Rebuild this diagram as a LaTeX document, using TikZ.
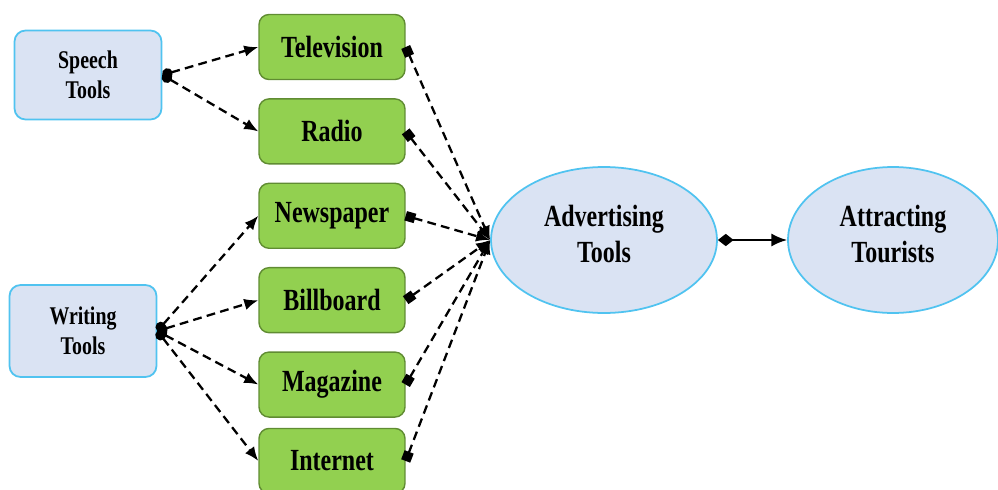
\documentclass[tikz,border=0pt]{standalone}
\usepackage{fontspec}
\newfontfamily\labelfont{Liberation Serif}[FakeStretch=0.78]
\usetikzlibrary{positioning}
\usetikzlibrary{arrows.meta,shapes.geometric}

\definecolor{toolfill}{RGB}{218,227,243}
\definecolor{toolline}{RGB}{80,195,240}
\definecolor{mediafill}{RGB}{146,208,80}
\definecolor{mediadraw}{RGB}{96,140,50}

\begin{document}
\begin{tikzpicture}[x=0.02cm,y=-0.02cm,node distance=0.36cm,
  tool/.style={draw=toolline,fill=toolfill,line width=1pt,rounded corners=0.22cm,
    minimum width=2.94cm,minimum height=1.78cm,align=center,
    font=\labelfont\bfseries\fontsize{14.5}{17}\selectfont},
  media/.style={draw=mediadraw,fill=mediafill,line width=0.8pt,rounded corners=0.2cm,
    minimum width=2.92cm,minimum height=1.3cm,
    font=\labelfont\bfseries\fontsize{17.5}{20}\selectfont},
  goal/.style={ellipse,draw=toolline,fill=toolfill,line width=1pt,inner sep=0pt,
    minimum height=2.92cm,align=center,
    font=\labelfont\bfseries\fontsize{17.5}{21}\selectfont},
  link/.style={line width=1.3pt,dash pattern=on 5pt off 3pt},
  dotlink/.style={link,{Circle[length=6pt]}-{Latex[length=8pt,width=6.5pt]}},
  squarelink/.style={link,{Square[length=5.5pt]}-{Latex[length=8pt,width=6.5pt]}}]
  \useasboundingbox (0,0) rectangle (998,490);

  \node[tool]                       (Speech)     at (88,75)  {Speech\\Tools};
  \node[tool,minimum height=1.84cm] (Writing)    at (83,331) {Writing\\Tools};
  \node[media]                      (Television) at (332,47) {Television};
  \node[media] (Radio)     [below=of Television]     {Radio};
  \node[media] (Newspaper) [below=of Radio]          {Newspaper};
  \node[media] (Billboard) [below=of Newspaper]      {Billboard};
  \node[media] (Magazine)  [below=of Billboard]      {Magazine};
  \node[media] (Internet)  [below=0.2cm of Magazine] {Internet};
  \node[goal,minimum width=4.52cm] (Advertising) at (604,240) {Advertising\\Tools\\[-14pt]};
  \node[goal,minimum width=4.2cm]  (Attracting)  at (893,240) {Attracting\\Tourists\\[-14pt]};

  \path[dotlink]
    (Speech.east)  edge (Television.west)
    (Speech.east)  edge (Radio.west)
    (Writing.east) edge (Newspaper.west)
    (Writing.east) edge (Billboard.west)
    (Writing.east) edge (Magazine.west)
    (Writing.east) edge (Internet.west);
  \path[squarelink]
    (Television.east) edge (Advertising.west)
    (Radio.east)      edge (Advertising.west)
    (Newspaper.east)  edge (Advertising.west)
    (Billboard.east)  edge (Advertising.west)
    (Magazine.east)   edge (Advertising.west)
    (Internet.east)   edge (Advertising.west);
  \path[line width=1.3pt,{Diamond[length=9pt,width=7pt]}-{Latex[length=9pt,width=7.5pt]}]
    (Advertising.east) edge (Attracting.west);
\end{tikzpicture}
\end{document}
